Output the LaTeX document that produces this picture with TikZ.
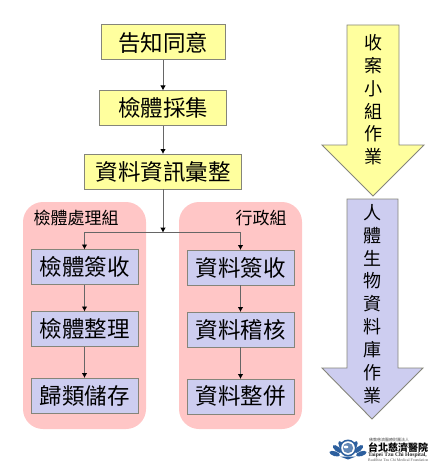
\documentclass[tikz,border=0pt]{standalone}
\usepackage{fontspec}
\newfontfamily\cjk{Noto Sans CJK TC}
\newfontfamily\eng{Liberation Serif}
\usetikzlibrary{arrows.meta,positioning}
\definecolor{ylw}{HTML}{FFFF9E}
\definecolor{blu}{HTML}{CDCDF0}
\definecolor{pnk}{HTML}{FFC6C6}
\definecolor{edge}{HTML}{85857A}
\definecolor{lotus}{HTML}{2C5F9E}

\begin{document}
\begin{tikzpicture}[
  x=1pt,y=-1pt,font=\cjk,>={Latex[length=5pt,width=5.5pt,black]},
  yb/.style={draw=edge,line width=1pt,fill=ylw,minimum height=35pt,inner sep=0pt,outer sep=0pt,font=\cjk\fontsize{22.5}{24}\selectfont},
  bb/.style={draw=edge,line width=1pt,fill=blu,minimum width=107pt,minimum height=35pt,inner sep=0pt,outer sep=0pt,font=\cjk\fontsize{22.5}{24}\selectfont},
  grp/.style={fill=pnk,rounded corners=20pt,minimum width=123pt,minimum height=227pt,inner sep=0pt,outer sep=0pt},
  lab/.style={inner sep=0pt,font=\cjk\fontsize{17}{18}\selectfont},
  ar/.style={->,line width=0.9pt,draw=black!60},
  bigar/.style={draw=edge,line width=0.9pt,line join=miter},
  vtxt/.style={align=center,inner sep=0pt,font=\cjk\fontsize{18}{22.9}\selectfont},
  petal/.style={fill=lotus}
]
\useasboundingbox (0,0) rectangle (445,476);

% ---- group panels ----
\node[grp] (lgrp) at (84.5,315.5) {};
\node[grp] (rgrp) at (240.5,315.5) {};
\node[lab] (llab) at (76,218) {檢體處理組};
\node[lab] (rlab) at (261,218) {行政組};

% ---- upper path ----
\node[yb,minimum width=124pt] (notice) at (163,42.5) {告知同意};
\node[yb,minimum width=127pt,below=30.5pt of notice] (collect) {檢體採集};
\node[yb,minimum width=157pt,below=28.5pt of collect] (merge) {資料資訊彙整};
\coordinate (split) at (merge.south |- 0,232.7);

% ---- left column ----
\node[bb,below=47.5pt of lgrp.north] (sign) {檢體簽收};
\node[bb,below=27pt of sign] (sort) {檢體整理};
\node[bb,below=31.5pt of sort] (store) {歸類儲存};

% ---- right column ----
\node[bb,below=48pt of rgrp.north] (dsign) {資料簽收};
\node[bb,below=27pt of dsign] (check) {資料稽核};
\node[bb,below=32pt of check] (join) {資料整併};

% wires
\draw[ar] (notice) -- (collect);
\draw[ar] (collect) -- (merge);
\draw[ar] (merge) -- (split);
\draw[ar] (split) -| (sign.north);
\draw[ar] (split) -| (dsign.north);
\draw[ar] (sign) -- (sort);
\draw[ar] (sort) -- (store);
\draw[ar] (dsign) -- (check);
\draw[ar] (check) -- (join);

% ---- big arrows ----
\draw[bigar,fill=ylw] (347,25) -- (399,25) -- (399,145) -- (424,145) -- (373,196) -- (322,145) -- (347,145) -- cycle;
\draw[bigar,fill=blu] (347,199) -- (398,199) -- (398,368) -- (423,368) -- (372,419) -- (322,368) -- (347,368) -- cycle;
\node[vtxt,anchor=north] (team) at (373,34) {收\\案\\小\\組\\作\\業};
\node[vtxt,anchor=north] (bank) at (372,204) {人\\體\\生\\物\\資\\料\\庫\\作\\業};

% ---- hospital mark ----
\foreach \a/\r in {-72/14,-50/14,-28/13.5,28/13.5,50/14,72/14}
  \fill[petal,rotate around={\a:(348,458)}] (348,\r*-1+458) ellipse (2.4 and 5.5);
\fill[lotus] (348,448) circle (8.5);
\fill[white] (348,448) circle (6.8);
\fill[lotus!75] (348,448) circle (5.2);
\fill[white] (346,447) ellipse (2.4 and 1.4);
\fill[lotus] (340,456.5) -- (356,456.5) -- (348,459.5) -- cycle;
\node[inner sep=0pt,anchor=west,font=\cjk\fontsize{4}{4}\selectfont,text=black!70] (fnd) at (369,440) {佛教慈濟醫療財團法人};
\node[inner sep=0pt,anchor=west,font=\cjk\bfseries\fontsize{10}{10}\selectfont] (hosp) at (368,447.5) {台北慈濟醫院};
\node[inner sep=0pt,anchor=west,font=\eng\bfseries\fontsize{5.6}{6}\selectfont,text=black!85] (eng1) at (368,455) {Taipei Tzu Chi Hospital,};
\node[inner sep=0pt,anchor=west,font=\eng\fontsize{3.9}{4}\selectfont,text=black!65] (eng2) at (368,460.5) {Buddhist Tzu Chi Medical Foundation};
\end{tikzpicture}
\end{document}
